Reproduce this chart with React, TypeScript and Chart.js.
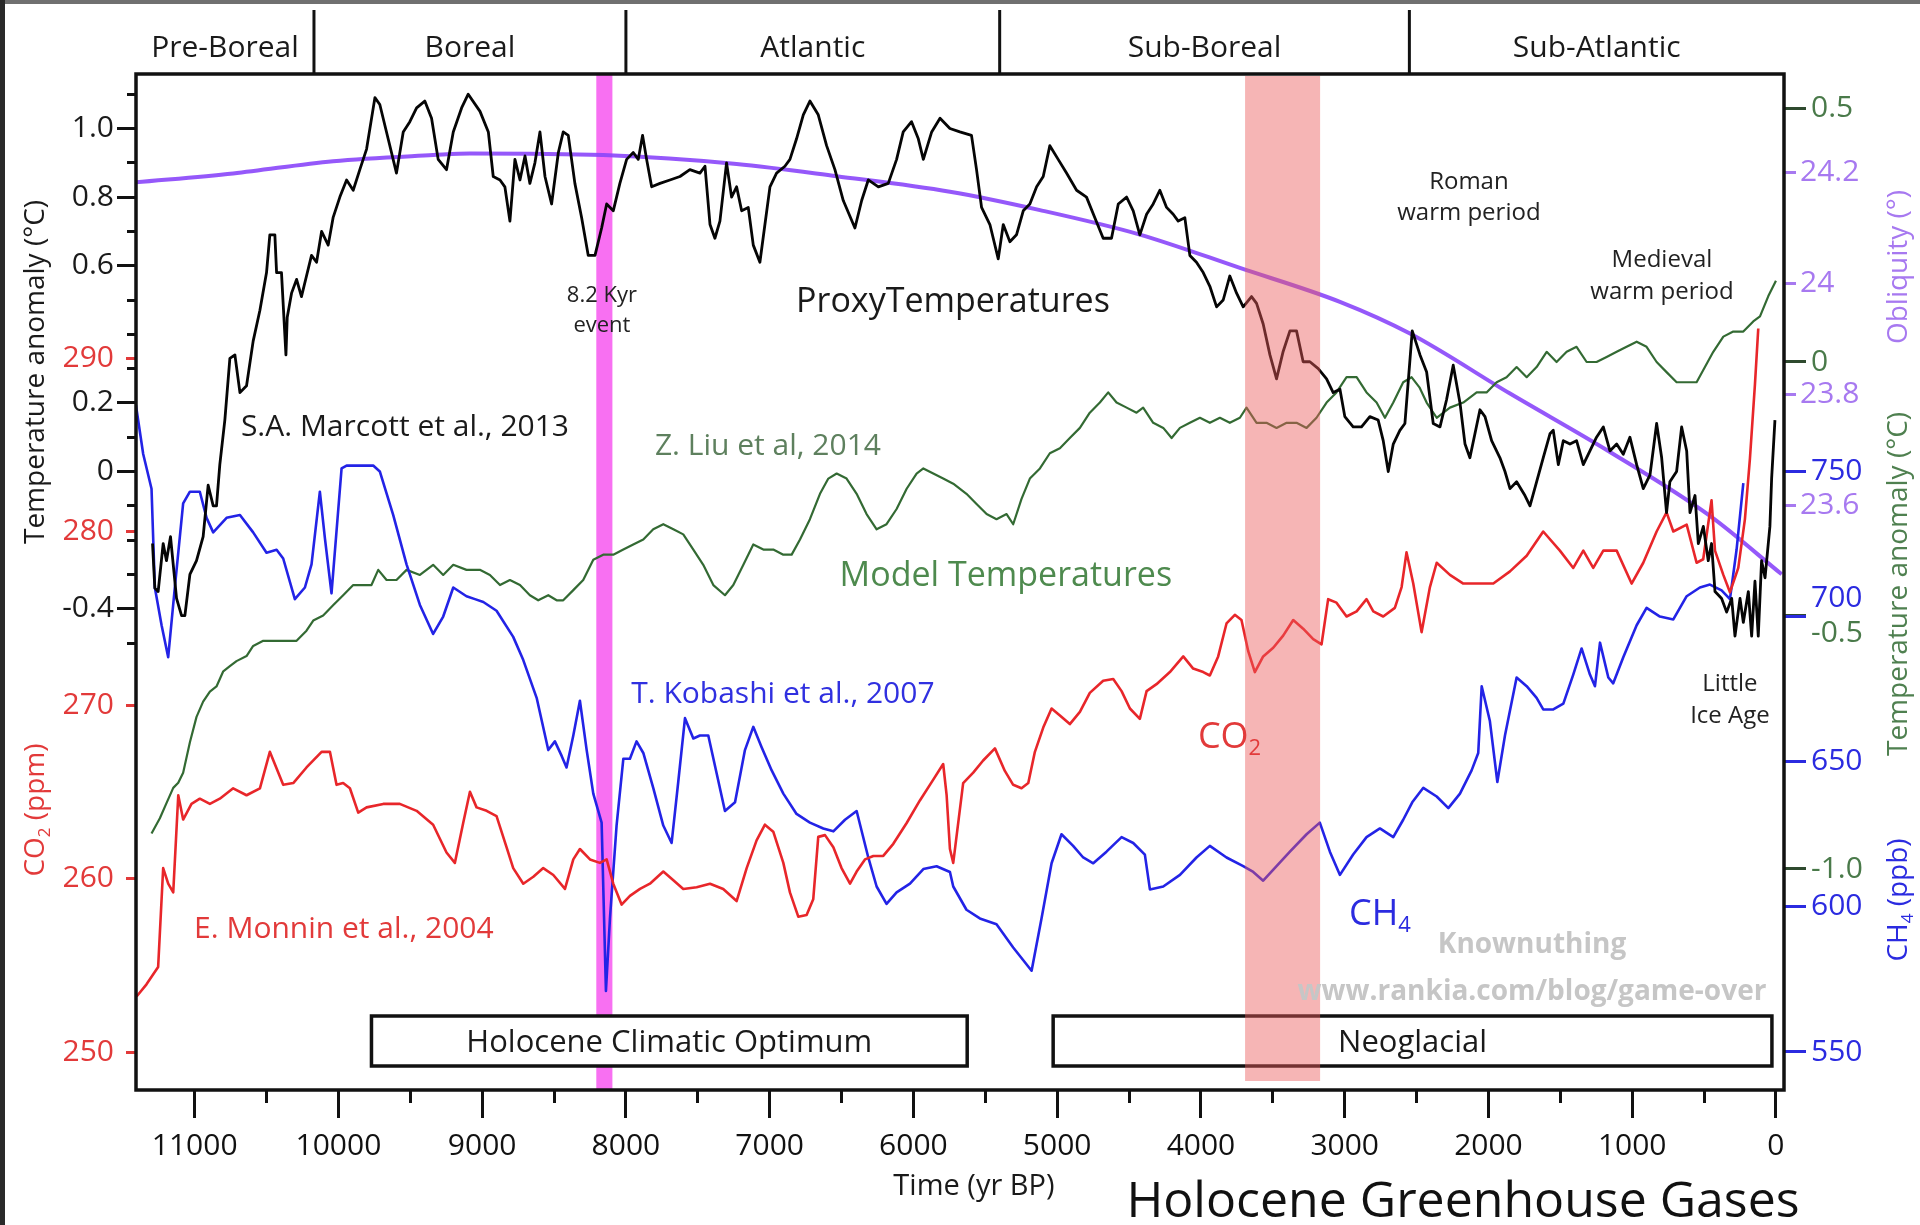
import React, { useEffect, useRef } from 'react';
import { Chart, registerables } from 'chart.js';

Chart.register(...registerables);

const FONT = '"Open Sans", "DejaVu Sans", sans-serif';

// ---------------- Data (years BP) ----------------
// S.A. Marcott et al., 2013 – proxy temperature anomaly (°C, left axis)
const proxyYears = [
  11293, 11277, 11254, 11219, 11196, 11168, 11126, 11091, 11068, 11033,
  10987, 10941, 10906, 10871, 10848, 10825, 10790, 10755, 10720, 10685,
  10639, 10593, 10546, 10500, 10477, 10442, 10430, 10396, 10365, 10356,
  10326, 10291, 10257, 10222, 10187, 10152, 10117, 10071, 10037, 9990,
  9943, 9897, 9851, 9804, 9746, 9712, 9654, 9596, 9549, 9503,
  9456, 9399, 9352, 9306, 9248, 9201, 9143, 9097, 9015, 8957,
  8923, 8876, 8842, 8807, 8772, 8737, 8702, 8668, 8633, 8598,
  8563, 8517, 8470, 8436, 8401, 8355, 8308, 8262, 8215, 8169,
  8134, 8088, 8042, 7995, 7949, 7914, 7884, 7856, 7821, 7763,
  7694, 7624, 7555, 7485, 7450, 7415, 7381, 7346, 7300, 7265,
  7230, 7195, 7149, 7114, 7068, 7033, 6998, 6952, 6894, 6859,
  6813, 6766, 6720, 6662, 6604, 6546, 6488, 6407, 6360, 6314,
  6244, 6175, 6117, 6071, 6013, 5966, 5931, 5873, 5815, 5746,
  5677, 5596, 5561, 5526, 5468, 5410, 5375, 5329, 5283, 5236,
  5190, 5143, 5097, 5051, 4993, 4935, 4865, 4796, 4738, 4680,
  4622, 4575, 4517, 4471, 4425, 4378, 4332, 4286, 4239, 4193,
  4158, 4112, 4077, 4031, 3984, 3938, 3891, 3845, 3799, 3752,
  3706, 3648, 3613, 3567, 3520, 3474, 3428, 3381, 3335, 3289,
  3242, 3184, 3126, 3080, 3033, 2999, 2941, 2883, 2825, 2767,
  2732, 2697, 2662, 2616, 2581, 2530, 2476, 2430, 2384, 2337,
  2291, 2245, 2198, 2163, 2129, 2094, 2059, 2024, 1978, 1920,
  1885, 1850, 1804, 1746, 1711, 1665, 1619, 1572, 1549, 1514,
  1479, 1433, 1387, 1340, 1294, 1248, 1201, 1155, 1108, 1062,
  1016, 969, 923, 876, 830, 795, 761, 738, 691, 656,
  621, 598, 563, 540, 505, 471, 448, 424, 378, 343,
  308, 285, 250, 227, 192, 169, 146, 123, 100, 76,
  42, 30, 7,
];
const proxyTemps = [
  -0.21, -0.34, -0.35, -0.21, -0.26, -0.19, -0.37, -0.42, -0.42, -0.30,
  -0.26, -0.19, -0.04, -0.10, -0.10, 0.02, 0.15, 0.33, 0.34, 0.23,
  0.25, 0.38, 0.47, 0.58, 0.69, 0.69, 0.58, 0.58, 0.34, 0.45,
  0.52, 0.56, 0.51, 0.57, 0.63, 0.61, 0.70, 0.66, 0.74, 0.80,
  0.85, 0.82, 0.88, 0.94, 1.09, 1.07, 0.97, 0.87, 0.99, 1.02,
  1.06, 1.08, 1.03, 0.91, 0.88, 0.99, 1.06, 1.10, 1.05, 0.99,
  0.86, 0.85, 0.83, 0.73, 0.91, 0.85, 0.92, 0.84, 0.90, 0.99,
  0.86, 0.78, 0.93, 0.99, 0.98, 0.84, 0.74, 0.63, 0.63, 0.71,
  0.78, 0.76, 0.84, 0.91, 0.93, 0.91, 0.98, 0.91, 0.83, 0.84,
  0.85, 0.86, 0.88, 0.87, 0.89, 0.72, 0.68, 0.73, 0.90, 0.80,
  0.83, 0.76, 0.77, 0.66, 0.61, 0.72, 0.83, 0.87, 0.89, 0.91,
  0.97, 1.04, 1.08, 1.04, 0.95, 0.88, 0.79, 0.71, 0.79, 0.85,
  0.83, 0.84, 0.91, 0.99, 1.02, 0.97, 0.91, 0.99, 1.03, 1.00,
  0.99, 0.98, 0.88, 0.77, 0.72, 0.62, 0.72, 0.67, 0.69, 0.76,
  0.78, 0.83, 0.86, 0.95, 0.91, 0.87, 0.82, 0.80, 0.74, 0.68,
  0.68, 0.78, 0.80, 0.76, 0.69, 0.75, 0.78, 0.82, 0.77, 0.75,
  0.73, 0.74, 0.63, 0.61, 0.58, 0.54, 0.48, 0.50, 0.57, 0.52,
  0.48, 0.51, 0.49, 0.43, 0.34, 0.27, 0.35, 0.41, 0.41, 0.32,
  0.32, 0.30, 0.27, 0.23, 0.24, 0.16, 0.13, 0.13, 0.16, 0.15,
  0.09, 0.00, 0.08, 0.12, 0.14, 0.41, 0.34, 0.29, 0.14, 0.13,
  0.21, 0.31, 0.20, 0.08, 0.04, 0.11, 0.18, 0.16, 0.09, 0.04,
  0.00, -0.05, -0.03, -0.07, -0.10, -0.03, 0.04, 0.11, 0.12, 0.02,
  0.09, 0.08, 0.09, 0.02, 0.06, 0.10, 0.13, 0.06, 0.08, 0.05,
  0.10, 0.02, -0.05, -0.01, 0.14, 0.04, -0.12, -0.03, 0.00, 0.13,
  0.06, -0.12, -0.07, -0.21, -0.16, -0.26, -0.21, -0.35, -0.37, -0.41,
  -0.37, -0.48, -0.37, -0.44, -0.35, -0.48, -0.32, -0.48, -0.26, -0.31,
  -0.16, -0.02, 0.15,
];

// Z. Liu et al, 2014 – model temperature anomaly (°C, right green axis)
const modelYears = [
  11300, 11242, 11196, 11149, 11114, 11080, 11033, 10987, 10941, 10894,
  10848, 10801, 10755, 10709, 10639, 10593, 10523, 10430, 10361, 10291,
  10222, 10175, 10106, 10037, 9967, 9897, 9828, 9770, 9723, 9665,
  9596, 9526, 9433, 9341, 9271, 9201, 9109, 9016, 8946, 8876,
  8807, 8737, 8668, 8610, 8540, 8482, 8436, 8366, 8297, 8227,
  8158, 8088, 8018, 7949, 7879, 7810, 7740, 7670, 7601, 7531,
  7462, 7392, 7311, 7253, 7183, 7114, 7044, 6975, 6905, 6847,
  6789, 6720, 6650, 6592, 6534, 6465, 6395, 6326, 6256, 6187,
  6117, 6047, 5978, 5931, 5862, 5793, 5723, 5631, 5561, 5491,
  5422, 5352, 5306, 5248, 5190, 5120, 5051, 4981, 4912, 4842,
  4773, 4703, 4645, 4587, 4517, 4448, 4402, 4332, 4262, 4204,
  4146, 4077, 4007, 3938, 3868, 3799, 3729, 3683, 3613, 3544,
  3474, 3404, 3335, 3265, 3196, 3126, 3057, 2987, 2917, 2848,
  2778, 2720, 2662, 2593, 2535, 2480, 2430, 2360, 2268, 2175,
  2082, 2013, 1943, 1874, 1804, 1734, 1665, 1595, 1526, 1456,
  1387, 1317, 1248, 1178, 1108, 1039, 969, 900, 830, 761,
  691, 621, 552, 494, 436, 366, 297, 227, 158, 111,
  53, 0,
];
const modelTemps = [
  -0.93, -0.90, -0.87, -0.84, -0.83, -0.81, -0.75, -0.70, -0.67, -0.65,
  -0.64, -0.61, -0.60, -0.59, -0.58, -0.56, -0.55, -0.55, -0.55, -0.55,
  -0.53, -0.51, -0.50, -0.48, -0.46, -0.44, -0.44, -0.44, -0.41, -0.43,
  -0.43, -0.41, -0.42, -0.40, -0.42, -0.40, -0.41, -0.41, -0.42, -0.44,
  -0.43, -0.44, -0.46, -0.47, -0.46, -0.47, -0.47, -0.45, -0.43, -0.39,
  -0.38, -0.38, -0.37, -0.36, -0.35, -0.33, -0.32, -0.33, -0.34, -0.37,
  -0.40, -0.44, -0.46, -0.44, -0.40, -0.36, -0.37, -0.37, -0.38, -0.38,
  -0.35, -0.31, -0.26, -0.23, -0.22, -0.23, -0.26, -0.30, -0.33, -0.32,
  -0.29, -0.25, -0.22, -0.21, -0.22, -0.23, -0.24, -0.26, -0.28, -0.30,
  -0.31, -0.30, -0.32, -0.27, -0.23, -0.21, -0.18, -0.17, -0.15, -0.13,
  -0.10, -0.08, -0.06, -0.08, -0.09, -0.10, -0.09, -0.12, -0.13, -0.15,
  -0.13, -0.12, -0.11, -0.12, -0.11, -0.12, -0.11, -0.09, -0.12, -0.12,
  -0.13, -0.12, -0.12, -0.13, -0.11, -0.08, -0.06, -0.03, -0.03, -0.06,
  -0.08, -0.11, -0.08, -0.04, -0.03, -0.05, -0.08, -0.11, -0.09, -0.08,
  -0.06, -0.06, -0.04, -0.03, -0.01, -0.03, -0.01, 0.02, 0.00, 0.02,
  0.03, 0.00, 0.00, 0.01, 0.02, 0.03, 0.04, 0.03, 0.00, -0.02,
  -0.04, -0.04, -0.04, -0.01, 0.02, 0.05, 0.06, 0.06, 0.08, 0.09,
  0.13, 0.16,
];

// E. Monnin et al., 2004 – CO2 (ppm, left red axis)
const co2Years = [
  11404, 11335, 11254, 11219, 11184, 11149, 11114, 11080, 11022, 10964,
  10894, 10825, 10732, 10639, 10546, 10477, 10384, 10314, 10222, 10117,
  10059, 10013, 9967, 9920, 9862, 9804, 9688, 9573, 9456, 9341,
  9248, 9190, 9132, 9085, 9039, 8969, 8900, 8830, 8784, 8714,
  8644, 8575, 8505, 8424, 8366, 8320, 8250, 8181, 8134, 8088,
  8030, 7972, 7902, 7833, 7740, 7670, 7601, 7508, 7415, 7323,
  7230, 7160, 7091, 7033, 6975, 6905, 6859, 6801, 6743, 6697,
  6662, 6615, 6557, 6500, 6441, 6395, 6337, 6279, 6210, 6140,
  6047, 5955, 5862, 5793, 5769, 5746, 5723, 5654, 5584, 5515,
  5433, 5364, 5306, 5248, 5201, 5155, 5097, 5039, 4981, 4912,
  4842, 4773, 4680, 4610, 4552, 4494, 4425, 4378, 4309, 4216,
  4123, 4054, 3984, 3938, 3880, 3822, 3764, 3718, 3671, 3625,
  3567, 3497, 3428, 3358, 3289, 3219, 3161, 3115, 3057, 2987,
  2917, 2848, 2801, 2732, 2651, 2604, 2570, 2523, 2465, 2407,
  2360, 2268, 2175, 2082, 1966, 1850, 1734, 1619, 1503, 1410,
  1340, 1271, 1201, 1108, 1004, 923, 830, 761, 714, 621,
  552, 506, 448, 424, 366, 320, 262, 216, 181, 146,
  123,
];
const co2Values = [
  253.2, 253.9, 254.9, 260.6, 259.7, 259.2, 264.8, 263.4, 264.3, 264.6,
  264.3, 264.6, 265.2, 264.8, 265.2, 267.3, 265.4, 265.5, 266.4, 267.3,
  267.3, 265.4, 265.5, 265.2, 263.8, 264.1, 264.3, 264.3, 263.9, 263.1,
  261.5, 260.9, 263.2, 265.0, 264.1, 263.9, 263.6, 261.8, 260.6, 259.7,
  260.1, 260.6, 260.2, 259.4, 261.1, 261.7, 261.1, 260.9, 261.1, 259.7,
  258.5, 259.0, 259.4, 259.7, 260.4, 259.9, 259.4, 259.5, 259.7, 259.4,
  258.7, 260.6, 262.2, 263.1, 262.7, 260.9, 259.2, 257.8, 257.9, 258.8,
  262.4, 262.5, 261.8, 260.6, 259.7, 260.4, 261.1, 261.3, 261.3, 262.0,
  263.2, 264.5, 265.7, 266.6, 264.8, 261.7, 260.9, 265.5, 266.1, 266.8,
  267.5, 266.2, 265.4, 265.2, 265.5, 267.3, 268.7, 269.8, 269.4, 268.9,
  269.6, 270.7, 271.4, 271.5, 270.8, 269.8, 269.2, 270.8, 271.2, 271.9,
  272.8, 272.1, 271.9, 271.7, 272.8, 274.7, 275.2, 274.9, 273.1, 271.9,
  272.8, 273.3, 274.0, 274.9, 274.4, 273.8, 273.5, 276.1, 275.9, 275.1,
  275.4, 276.1, 275.4, 275.1, 275.6, 276.8, 278.8, 277.0, 274.2, 276.8,
  278.2, 277.5, 277.0, 277.0, 277.0, 277.7, 278.6, 280.0, 278.9, 277.9,
  278.9, 277.9, 278.9, 278.9, 277.0, 278.2, 280.0, 281.1, 280.0, 280.4,
  278.2, 278.4, 281.8, 278.9, 277.5, 276.5, 277.9, 280.7, 284.2, 288.5,
  291.7,
];

// T. Kobashi et al., 2007 – CH4 (ppb, right blue axis)
const ch4Years = [
  11409, 11358, 11300, 11277, 11230, 11184, 11138, 11080, 11033, 10964,
  10917, 10871, 10778, 10685, 10593, 10500, 10430, 10384, 10303, 10233,
  10187, 10129, 10094, 10048, 9978, 9943, 9851, 9758, 9712, 9619,
  9526, 9433, 9341, 9271, 9201, 9109, 9050, 8992, 8900, 8784,
  8714, 8621, 8540, 8494, 8447, 8413, 8366, 8320, 8273, 8227,
  8169, 8139, 8111, 8065, 8018, 7972, 7926, 7879, 7810, 7740,
  7682, 7636, 7589, 7531, 7485, 7427, 7369, 7311, 7241, 7172,
  7114, 7056, 6986, 6905, 6813, 6720, 6627, 6557, 6476, 6395,
  6314, 6256, 6187, 6117, 6024, 5931, 5839, 5746, 5723, 5631,
  5538, 5422, 5306, 5178, 5109, 5039, 4970, 4889, 4819, 4749,
  4657, 4552, 4471, 4390, 4355, 4262, 4146, 4031, 3938, 3822,
  3706, 3636, 3567, 3474, 3381, 3265, 3173, 3103, 3033, 2941,
  2848, 2755, 2662, 2593, 2530, 2453, 2360, 2279, 2198, 2117,
  2071, 2047, 1990, 1938, 1885, 1804, 1734, 1665, 1619, 1549,
  1479, 1410, 1352, 1294, 1259, 1224, 1166, 1132, 1062, 969,
  900, 807, 714, 621, 529, 459, 378, 320, 274, 227,
];
const ch4Values = [
  773, 756, 744, 710, 697, 686, 710, 739, 743, 743,
  734, 729, 734, 735, 729, 722, 723, 720, 706, 710,
  718, 743, 727, 708, 751, 752, 752, 752, 750, 735,
  718, 704, 694, 700, 710, 707, 706, 705, 702, 693,
  685, 672, 654, 657, 652, 648, 659, 671, 654, 639,
  629, 571, 596, 628, 651, 651, 657, 653, 641, 628,
  622, 643, 665, 658, 659, 659, 646, 633, 636, 654,
  662, 655, 647, 639, 632, 629, 627, 626, 630, 633,
  617, 607, 601, 605, 608, 613, 614, 612, 607, 599,
  596, 594, 586, 578, 596, 615, 625, 621, 617, 615,
  619, 624, 622, 618, 606, 607, 611, 617, 621, 617,
  614, 612, 609, 614, 619, 625, 629, 619, 611, 618,
  624, 627, 624, 630, 636, 641, 638, 634, 639, 647,
  653, 676, 664, 643, 659, 679, 676, 672, 668, 668,
  670, 680, 689, 680, 676, 691, 679, 677, 686, 697,
  703, 700, 699, 707, 710, 711, 709, 706, 723, 746,
];

// Earth's obliquity (°, right purple axis)
const oblYears = [11410, 10732, 10037, 9341, 9085, 8158, 7230, 6534, 5746, 5120, 4425, 3729, 3033, 2546, 1850, 1155, 459, -40];
const oblValues = [24.182, 24.198, 24.220, 24.231, 24.234, 24.231, 24.215, 24.193, 24.165, 24.132, 24.088, 24.028, 23.967, 23.910, 23.802, 23.697, 23.582, 23.477];

// Axis tick values
const xMajorTicks = [11000, 10000, 9000, 8000, 7000, 6000, 5000, 4000, 3000, 2000, 1000, 0];
const xMinorTicks = [10500, 9500, 8500, 7500, 6500, 5500, 4500, 3500, 2500, 1500, 500];
const tempLabelTicks = [1.0, 0.8, 0.6, 0.2, 0, -0.4];
const tempMinorTicks = [1.1, 0.9, 0.7, 0.5, 0.4, 0.3, 0.1, -0.1, -0.2, -0.3, -0.5];
const co2Ticks = [290, 280, 270, 260, 250];
const modelTicks = [0.5, 0, -0.5, -1.0];
const oblTicks = [24.2, 24.0, 23.8, 23.6];
const ch4Ticks = [750, 700, 650, 600, 550];

// Periods and highlighted intervals (years BP)
const periodNames = ['Pre-Boreal', 'Boreal', 'Atlantic', 'Sub-Boreal', 'Sub-Atlantic'];
const periodBounds = [10170, 8000, 5400, 2550];
const eventBand = [8206, 8094];
const coolBand = [3693, 3171];
const hcoBox = [9770, 5626];
const neoBox = [5028, 28];

// ---------------- helpers ----------------
type Part = [string, boolean];

function drawText(ctx: CanvasRenderingContext2D, s: string, x: number, y: number, size: number, color: string, bold = false, align: CanvasTextAlign = 'center') {
  ctx.font = `${bold ? '700 ' : ''}${size}px ${FONT}`;
  ctx.fillStyle = color;
  ctx.textAlign = align;
  ctx.textBaseline = 'alphabetic';
  ctx.fillText(s, x, y + size * 0.357);
}

function drawParts(ctx: CanvasRenderingContext2D, parts: Part[], x: number, y: number, size: number, color: string, align: 'left' | 'center' = 'center') {
  const sub = Math.round(size * 0.62);
  let w = 0;
  for (const [t, s] of parts) {
    ctx.font = `${s ? sub : size}px ${FONT}`;
    w += ctx.measureText(t).width;
  }
  let cx = align === 'center' ? x - w / 2 : x;
  ctx.fillStyle = color;
  ctx.textAlign = 'left';
  ctx.textBaseline = 'alphabetic';
  const base = y + size * 0.357;
  for (const [t, s] of parts) {
    ctx.font = `${s ? sub : size}px ${FONT}`;
    ctx.fillText(t, cx, s ? base + size * 0.2 : base);
    cx += ctx.measureText(t).width;
  }
}

function drawVertical(ctx: CanvasRenderingContext2D, parts: Part[], x: number, y: number, size: number, color: string) {
  ctx.save();
  ctx.translate(x, y);
  ctx.rotate(-Math.PI / 2);
  drawParts(ctx, parts, 0, 0, size, color, 'center');
  ctx.restore();
}

const setTicks = (vals: number[]) => (s: any) => {
  s.ticks = vals.map((v) => ({ value: v }));
};
const zeroW = (s: any) => {
  s.width = 0;
};
const zeroH = (s: any) => {
  s.height = 0;
};
const tickGrid = (len: number, color: string, width = 3) => ({
  display: true,
  drawOnChartArea: false,
  drawTicks: true,
  tickLength: len,
  tickWidth: width,
  tickColor: color,
  color,
});
const tickFont = { family: FONT, size: 30 };
const fmt1 = (v: number) => (v === 0 ? '0' : v.toFixed(1));

const decorPlugin = {
  id: 'decor',
  afterLayout(chart: any) {
    // All axes share the plot edges: widen each scale box to the canvas margin
    // so tick labels are not clipped.
    const a = chart.chartArea;
    for (const id of Object.keys(chart.scales)) {
      const s = chart.scales[id];
      const pos = s.options.position;
      if (pos === 'left') {
        s.left = 0;
        s.right = a.left;
        s.width = a.left;
      } else if (pos === 'right') {
        s.left = a.right;
        s.right = chart.width;
        s.width = chart.width - a.right;
      } else if (pos === 'bottom') {
        s.top = a.bottom;
        s.bottom = chart.height;
        s.height = chart.height - a.bottom;
      }
    }
  },
  beforeDraw(chart: any) {
    const { ctx, chartArea: a, scales } = chart;
    const X = (v: number) => scales.x.getPixelForValue(v);
    ctx.save();
    ctx.fillStyle = '#ffffff';
    ctx.fillRect(0, 0, chart.width, chart.height);
    ctx.fillStyle = '#707070';
    ctx.fillRect(0, 0, chart.width, 4);
    ctx.fillStyle = '#2a2a2a';
    ctx.fillRect(0, 0, 5, chart.height);
    // header band of climatic periods
    ctx.strokeStyle = '#111';
    ctx.lineWidth = 3;
    periodBounds.forEach((b) => {
      const x = X(b);
      ctx.beginPath();
      ctx.moveTo(x, 10);
      ctx.lineTo(x, a.top);
      ctx.stroke();
    });
    const edges = [a.left, ...periodBounds.map(X), a.right];
    periodNames.forEach((n, i) => drawText(ctx, n, (edges[i] + edges[i + 1]) / 2, 46, 30, '#1a1a1a'));
    ctx.restore();
  },
  beforeDatasetsDraw(chart: any) {
    const { ctx, chartArea: a, scales } = chart;
    const X = (v: number) => scales.x.getPixelForValue(v);
    ctx.save();
    // 8.2 kyr event band
    const e1 = X(eventBand[0]);
    const e2 = X(eventBand[1]);
    ctx.fillStyle = '#f870f2';
    ctx.fillRect(e1, a.top, e2 - e1, a.bottom - a.top);
    // period boxes
    const top = a.bottom - 74;
    const bot = a.bottom - 24;
    const boxes: [number[], string][] = [
      [hcoBox, 'Holocene Climatic Optimum'],
      [neoBox, 'Neoglacial'],
    ];
    for (const [b, label] of boxes) {
      const x1 = X(b[0]);
      const x2 = X(b[1]);
      ctx.fillStyle = '#fff';
      ctx.fillRect(x1, top, x2 - x1, bot - top);
      ctx.strokeStyle = '#111';
      ctx.lineWidth = 3.5;
      ctx.strokeRect(x1, top, x2 - x1, bot - top);
      drawText(ctx, label, (x1 + x2) / 2, (top + bot) / 2, 31, '#1a1a1a');
    }
    ctx.restore();
  },
  afterDatasetsDraw(chart: any) {
    const { ctx, chartArea: a, scales } = chart;
    const X = (v: number) => scales.x.getPixelForValue(v);
    const T = (v: number) => scales.yTemp.getPixelForValue(v);
    ctx.save();
    // cool event band (translucent)
    const c1 = X(coolBand[0]);
    const c2 = X(coolBand[1]);
    ctx.fillStyle = 'rgba(236, 92, 92, 0.45)';
    ctx.fillRect(c1, a.top + 2, c2 - c1, a.bottom - 9 - a.top - 2);
    // plot frame
    ctx.strokeStyle = '#111';
    ctx.lineWidth = 3.5;
    ctx.strokeRect(a.left, a.top, a.right - a.left, a.bottom - a.top);

    const notes: [string, number, number, number, string][] = [
      ['ProxyTemperatures', 5725, 0.5, 34, '#1a1a1a'],
      ['S.A. Marcott et al., 2013', 9537, 0.136, 30, '#1a1a1a'],
      ['Z. Liu et al, 2014', 7012, 0.08, 30, '#5e805e'],
      ['Model Temperatures', 5357, -0.299, 34, '#4e8a4e'],
      ['T. Kobashi et al., 2007', 6908, -0.643, 30, '#3030e0'],
      ['E. Monnin et al., 2004', 9962, -1.328, 30, '#e23a3a'],
      ['8.2 Kyr', 8167, 0.5175, 22, '#222'],
      ['event', 8167, 0.43, 22, '#222'],
      ['Roman', 2136, 0.85, 24, '#222'],
      ['warm period', 2136, 0.759, 24, '#222'],
      ['Medieval', 793, 0.622, 24, '#222'],
      ['warm period', 793, 0.529, 24, '#222'],
      ['Little', 320, -0.614, 24, '#222'],
      ['Ice Age', 320, -0.707, 24, '#222'],
    ];
    for (const [s, yr, t, size, color] of notes) drawText(ctx, s, X(yr), T(t), size, color);
    drawParts(ctx, [['CO', false], ['2', true]], X(4021), T(-0.768), 36, '#e23a3a', 'left');
    drawParts(ctx, [['CH', false], ['4', true]], X(2970), T(-1.284), 36, '#2b2be0', 'left');
    drawText(ctx, 'Knownuthing', X(1697), T(-1.375), 28, '#c6c6c6', true);
    drawText(ctx, 'www.rankia.com/blog/game-over', X(1697), T(-1.512), 28, '#c6c6c6', true);
    ctx.restore();
  },
  afterDraw(chart: any) {
    const { ctx, scales } = chart;
    const X = (v: number) => scales.x.getPixelForValue(v);
    ctx.save();
    drawVertical(ctx, [['Temperature anomaly (°C)', false]], 34, 372, 28, '#1a1a1a');
    drawVertical(ctx, [['CO', false], ['2', true], [' (ppm)', false]], 34, 810, 28, '#e23a3a');
    drawVertical(ctx, [['Obliquity (°)', false]], 1897, 267, 28, '#a779f0');
    drawVertical(ctx, [['Temperature anomaly (°C)', false]], 1897, 584, 28, '#4f8050');
    drawVertical(ctx, [['CH', false], ['4', true], [' (ppb)', false]], 1897, 900, 28, '#2b2be0');
    drawText(ctx, 'Time (yr BP)', X(5579), 1185, 29, '#1a1a1a');
    drawText(ctx, 'Holocene Greenhouse Gases', 1463, 1199, 50, '#111');
    ctx.restore();
  },
};

export default function App() {
  const ref = useRef<HTMLCanvasElement | null>(null);

  useEffect(() => {
    const canvas = ref.current;
    if (!canvas) return;
    const pts = (xs: number[], ys: number[]) => xs.map((x, i) => ({ x, y: ys[i] }));
    const line = (label: string, data: any[], axis: string, color: string, width: number, extra: any = {}) => ({
      type: 'line' as const,
      label,
      data,
      yAxisID: axis,
      xAxisID: 'x',
      borderColor: color,
      borderWidth: width,
      pointRadius: 0,
      tension: 0,
      fill: false,
      borderJoinStyle: 'round' as const,
      ...extra,
    });

    const chart = new Chart(canvas, {
      type: 'line',
      data: {
        datasets: [
          line('Proxy temperatures (Marcott et al., 2013)', pts(proxyYears, proxyTemps), 'yTemp', '#050505', 2.8),
          line('CO2 (Monnin et al., 2004)', pts(co2Years, co2Values), 'yCO2', '#e8262a', 2.6),
          line('CH4 (Kobashi et al., 2007)', pts(ch4Years, ch4Values), 'yCH4', '#2323e6', 2.6),
          line('Model temperatures (Liu et al., 2014)', pts(modelYears, modelTemps), 'yModel', '#336a33', 2.2),
          line('Obliquity', pts(oblYears, oblValues), 'yObl', 'rgba(138, 70, 250, 0.9)', 4, { cubicInterpolationMode: 'monotone' }),
        ],
      },
      options: {
        responsive: false,
        animation: false,
        devicePixelRatio: 1,
        events: [],
        layout: { padding: { left: 136, right: 136, top: 74, bottom: 135 } },
        plugins: {
          legend: { display: false },
          tooltip: { enabled: false },
          title: { display: false },
        },
        scales: {
          x: {
            type: 'linear',
            position: 'bottom',
            min: -56,
            max: 11408,
            reverse: true,
            bounds: 'data',
            afterBuildTicks: setTicks(xMajorTicks),
            afterFit: zeroH,
            grid: tickGrid(28, '#111'),
            border: { display: false },
            ticks: { font: tickFont, color: '#111', padding: 10, maxRotation: 0, autoSkip: false, callback: (v: any) => String(v) },
          },
          xMinor: {
            type: 'linear',
            axis: 'x',
            position: 'bottom',
            min: -56,
            max: 11408,
            reverse: true,
            bounds: 'data',
            afterBuildTicks: setTicks(xMinorTicks),
            afterFit: zeroH,
            grid: tickGrid(13, '#111'),
            border: { display: false },
            ticks: { font: tickFont, autoSkip: false, maxRotation: 0, callback: () => '' },
          },
          yTemp: {
            type: 'linear',
            position: 'left',
            min: -1.8032,
            max: 1.1589,
            bounds: 'data',
            afterBuildTicks: setTicks(tempLabelTicks),
            afterFit: zeroW,
            grid: tickGrid(19, '#111'),
            border: { display: false },
            ticks: { font: tickFont, color: '#1a1a1a', padding: 3, autoSkip: false, callback: (v: any) => fmt1(v) },
          },
          yTempMinor: {
            type: 'linear',
            axis: 'y',
            position: 'left',
            min: -1.8032,
            max: 1.1589,
            bounds: 'data',
            afterBuildTicks: setTicks(tempMinorTicks),
            afterFit: zeroW,
            grid: tickGrid(9, '#111'),
            border: { display: false },
            ticks: { font: tickFont, autoSkip: false, callback: () => '' },
          },
          yCO2: {
            type: 'linear',
            position: 'left',
            min: 247.81,
            max: 306.37,
            bounds: 'data',
            afterBuildTicks: setTicks(co2Ticks),
            afterFit: zeroW,
            grid: tickGrid(10, '#e23a3a'),
            border: { display: false },
            ticks: { font: tickFont, color: '#e23a3a', padding: 12, autoSkip: false, callback: (v: any) => String(v) },
          },
          yModel: {
            type: 'linear',
            position: 'right',
            min: -1.4359,
            max: 0.568,
            bounds: 'data',
            afterBuildTicks: setTicks(modelTicks),
            afterFit: zeroW,
            grid: tickGrid(22, '#2f4a2f'),
            border: { display: false },
            ticks: {
              font: tickFont,
              color: '#4a7a4a',
              padding: 5,
              autoSkip: false,
              callback: (v: any) => (v === -0.5 ? ['', '-0.5'] : fmt1(v)),
            },
          },
          yObl: {
            type: 'linear',
            position: 'right',
            min: 22.5495,
            max: 24.3768,
            bounds: 'data',
            afterBuildTicks: setTicks(oblTicks),
            afterFit: zeroW,
            grid: tickGrid(12, '#a779f0'),
            border: { display: false },
            ticks: {
              font: tickFont,
              color: '#a779f0',
              padding: 4,
              autoSkip: false,
              callback: (v: any) => (Number.isInteger(v) ? String(v) : v.toFixed(1)),
            },
          },
          yCH4: {
            type: 'linear',
            position: 'right',
            min: 536.9,
            max: 886.9,
            bounds: 'data',
            afterBuildTicks: setTicks(ch4Ticks),
            afterFit: zeroW,
            grid: tickGrid(22, '#2b2be0'),
            border: { display: false },
            ticks: {
              font: tickFont,
              color: '#2b2be0',
              padding: 5,
              autoSkip: false,
              callback: (v: any) => (v === 700 ? ['700', ''] : String(v)),
            },
          },
        },
      } as any,
      plugins: [decorPlugin],
    });
    return () => chart.destroy();
  }, []);

  return (
    <div style={{ position: 'absolute', left: 0, top: 0, width: 1920, height: 1225, background: '#fff' }}>
      <canvas ref={ref} width={1920} height={1225} style={{ display: 'block', width: 1920, height: 1225 }} />
    </div>
  );
}
